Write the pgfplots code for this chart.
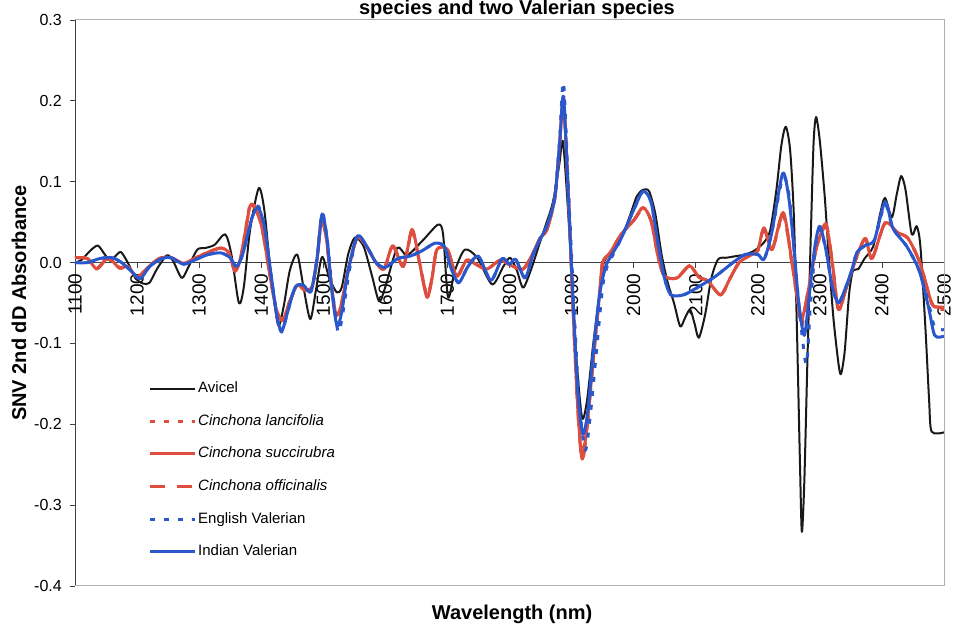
\documentclass[border=0pt]{standalone}
\usepackage{pgfplots}
\pgfplotsset{compat=1.18}
\usepackage{pgfplotstable}
\usepackage{fontspec}
\setmainfont{Liberation Sans}

\definecolor{cred}{RGB}{222,78,62}
\definecolor{cblue}{RGB}{42,88,204}
\definecolor{framegray}{RGB}{175,175,175}

% SNV second-derivative spectra (wavelength in nm, absorbance)
\pgfplotstableread{
x y
1100 0.000
1110 0.003
1125 0.015
1137 0.021
1148 0.010
1157 0.002
1165 0.008
1174 0.013
1185 0.000
1198 -0.020
1210 -0.026
1220 -0.025
1232 -0.008
1248 0.009
1258 0.002
1272 -0.019
1283 -0.005
1297 0.016
1310 0.018
1325 0.022
1342 0.035
1352 0.010
1364 -0.050
1372 -0.030
1382 0.040
1396 0.092
1405 0.065
1415 -0.010
1427 -0.077
1436 -0.055
1446 -0.010
1458 0.010
1468 -0.030
1479 -0.070
1488 -0.035
1498 0.007
1510 -0.020
1522 -0.037
1530 -0.030
1540 0.010
1551 0.031
1565 0.020
1578 -0.015
1590 -0.048
1600 -0.030
1619 0.018
1635 0.009
1661 0.028
1685 0.047
1693 0.035
1701 -0.043
1712 -0.010
1728 0.016
1748 0.006
1772 -0.027
1790 -0.005
1801 0.006
1812 -0.010
1822 -0.031
1835 -0.008
1849 0.025
1860 0.050
1870 0.075
1880 0.120
1886 0.150
1893 0.080
1900 -0.010
1908 -0.120
1917 -0.192
1925 -0.170
1935 -0.100
1945 -0.040
1952 0.000
1965 0.013
1980 0.030
1995 0.060
2005 0.082
2015 0.090
2025 0.088
2035 0.060
2045 0.010
2055 -0.025
2065 -0.050
2075 -0.079
2083 -0.068
2091 -0.058
2098 -0.075
2105 -0.093
2115 -0.065
2125 -0.020
2136 0.004
2150 0.006
2165 0.008
2180 0.010
2195 0.015
2210 0.025
2220 0.040
2230 0.090
2238 0.145
2245 0.168
2252 0.140
2258 0.060
2263 -0.080
2268 -0.250
2271 -0.333
2275 -0.270
2280 -0.120
2286 0.050
2290 0.150
2294 0.180
2300 0.150
2308 0.080
2315 0.000
2322 -0.070
2330 -0.125
2334 -0.138
2340 -0.110
2347 -0.040
2353 -0.011
2362 -0.008
2372 0.005
2386 0.020
2397 0.060
2405 0.080
2416 0.056
2424 0.085
2431 0.107
2438 0.090
2448 0.035
2456 0.045
2462 0.020
2470 -0.080
2476 -0.170
2480 -0.209
2500 -0.210
}\avicel

\pgfplotstableread{
x y
1100 0.006
1120 0.005
1135 -0.008
1150 0.004
1160 0.002
1172 -0.007
1185 -0.005
1200 -0.018
1215 -0.008
1235 0.005
1255 0.006
1275 -0.001
1295 0.006
1315 0.013
1335 0.018
1348 0.012
1358 -0.011
1368 0.010
1382 0.072
1392 0.066
1402 0.040
1415 -0.020
1425 -0.060
1435 -0.072
1445 -0.050
1458 -0.028
1470 -0.034
1482 -0.030
1490 0.005
1497 0.055
1505 0.030
1512 -0.020
1520 -0.066
1528 -0.055
1540 -0.010
1554 0.030
1568 0.022
1585 0.000
1598 -0.008
1612 0.021
1629 -0.005
1643 0.038
1655 0.000
1667 -0.040
1675 -0.020
1683 0.016
1700 0.016
1715 -0.017
1731 0.003
1748 -0.003
1764 -0.008
1785 0.003
1801 -0.003
1822 -0.008
1838 0.012
1849 0.030
1860 0.040
1873 0.080
1881 0.150
1887 0.208
1895 0.080
1902 -0.050
1910 -0.180
1917 -0.236
1925 -0.200
1935 -0.120
1945 -0.040
1950 0.000
1962 0.012
1980 0.035
2000 0.052
2015 0.068
2028 0.052
2040 0.005
2050 -0.017
2070 -0.019
2090 -0.004
2105 -0.018
2120 -0.023
2140 -0.040
2155 -0.020
2170 0.000
2190 0.010
2200 0.015
2210 0.043
2223 0.016
2241 0.058
2255 0.000
2265 -0.055
2271 -0.078
2280 -0.040
2295 0.020
2310 0.045
2320 0.000
2330 -0.058
2343 -0.030
2356 0.000
2373 0.030
2384 0.005
2405 0.049
2425 0.037
2442 0.030
2461 0.000
2480 -0.050
2490 -0.057
2500 -0.058
}\lancifolia

\pgfplotstableread{
x y
1100 0.006
1120 0.005
1135 -0.008
1150 0.004
1160 0.002
1172 -0.007
1185 -0.005
1200 -0.018
1215 -0.008
1235 0.005
1255 0.006
1275 -0.001
1295 0.006
1315 0.013
1335 0.018
1348 0.012
1358 -0.011
1368 0.010
1382 0.070
1392 0.065
1402 0.040
1415 -0.020
1425 -0.060
1435 -0.072
1445 -0.050
1458 -0.028
1470 -0.034
1482 -0.030
1490 0.005
1497 0.052
1505 0.030
1512 -0.020
1520 -0.064
1528 -0.055
1540 -0.010
1554 0.030
1568 0.022
1585 0.000
1598 -0.008
1612 0.021
1629 -0.005
1643 0.041
1655 0.000
1667 -0.043
1675 -0.020
1683 0.016
1700 0.016
1715 -0.017
1731 0.003
1748 -0.003
1764 -0.008
1785 0.003
1801 -0.003
1822 -0.008
1838 0.012
1849 0.030
1860 0.040
1873 0.080
1881 0.150
1887 0.200
1895 0.080
1902 -0.050
1910 -0.180
1917 -0.243
1925 -0.200
1935 -0.120
1945 -0.040
1950 0.000
1962 0.012
1980 0.035
2000 0.052
2015 0.068
2028 0.052
2040 0.005
2050 -0.017
2070 -0.019
2090 -0.004
2105 -0.018
2120 -0.023
2140 -0.040
2155 -0.020
2170 0.000
2190 0.010
2200 0.015
2210 0.043
2223 0.016
2241 0.062
2255 0.000
2265 -0.050
2271 -0.070
2280 -0.040
2295 0.020
2310 0.045
2320 0.000
2330 -0.058
2343 -0.030
2356 0.000
2373 0.030
2384 0.005
2405 0.049
2425 0.037
2442 0.030
2461 0.000
2480 -0.050
2490 -0.055
2500 -0.055
}\succirubra

\pgfplotstableread{
x y
1100 0.006
1120 0.005
1135 -0.007
1150 0.004
1160 0.002
1172 -0.006
1185 -0.005
1200 -0.018
1215 -0.008
1235 0.005
1255 0.006
1275 -0.001
1295 0.006
1315 0.013
1335 0.018
1348 0.012
1358 -0.010
1368 0.010
1382 0.068
1392 0.064
1402 0.040
1415 -0.020
1425 -0.060
1435 -0.070
1445 -0.050
1458 -0.028
1470 -0.034
1482 -0.030
1490 0.005
1497 0.052
1505 0.030
1512 -0.020
1520 -0.064
1528 -0.055
1540 -0.010
1554 0.030
1568 0.022
1585 0.000
1598 -0.008
1612 0.020
1629 -0.004
1643 0.040
1655 0.000
1667 -0.042
1675 -0.020
1683 0.016
1700 0.016
1715 -0.016
1731 0.003
1748 -0.003
1764 -0.008
1785 0.003
1801 -0.003
1822 -0.008
1838 0.012
1849 0.030
1860 0.040
1873 0.080
1881 0.148
1887 0.196
1895 0.080
1902 -0.050
1910 -0.182
1917 -0.245
1925 -0.205
1935 -0.120
1945 -0.040
1950 0.000
1962 0.012
1980 0.035
2000 0.052
2015 0.066
2028 0.052
2040 0.005
2050 -0.017
2070 -0.019
2090 -0.004
2105 -0.018
2120 -0.023
2140 -0.040
2155 -0.020
2170 0.000
2190 0.010
2200 0.015
2210 0.042
2223 0.016
2241 0.060
2255 0.000
2265 -0.052
2271 -0.072
2280 -0.040
2295 0.020
2310 0.048
2320 0.000
2330 -0.058
2343 -0.030
2356 0.000
2373 0.030
2384 0.005
2405 0.049
2425 0.037
2442 0.030
2461 0.000
2480 -0.050
2490 -0.055
2500 -0.056
}\officinalis

\pgfplotstableread{
x y
1100 0.000
1120 0.000
1140 0.005
1160 0.006
1175 0.000
1190 -0.010
1205 -0.020
1220 -0.005
1240 0.005
1255 0.006
1275 -0.002
1295 0.004
1315 0.010
1335 0.012
1350 0.006
1360 -0.005
1370 0.010
1385 0.055
1395 0.070
1405 0.045
1415 -0.010
1425 -0.065
1433 -0.086
1443 -0.060
1455 -0.030
1468 -0.028
1480 -0.036
1490 0.005
1498 0.062
1506 0.030
1514 -0.030
1524 -0.086
1532 -0.060
1542 -0.010
1555 0.033
1570 0.020
1585 0.000
1600 -0.006
1620 0.005
1640 0.008
1660 0.015
1680 0.024
1695 0.020
1705 -0.005
1718 -0.025
1733 -0.005
1750 0.008
1770 -0.022
1788 0.005
1800 -0.002
1810 0.004
1825 -0.019
1838 0.010
1850 0.030
1860 0.045
1873 0.082
1881 0.155
1887 0.223
1895 0.090
1903 -0.040
1912 -0.170
1922 -0.232
1930 -0.190
1940 -0.110
1950 -0.030
1958 -0.003
1967 0.010
1980 0.030
2000 0.065
2015 0.088
2028 0.075
2040 0.020
2050 -0.020
2060 -0.040
2080 -0.040
2100 -0.032
2130 -0.018
2160 0.000
2180 0.010
2200 0.010
2210 0.004
2222 0.035
2240 0.105
2250 0.085
2258 0.020
2266 -0.050
2278 -0.126
2285 -0.050
2293 0.020
2300 0.042
2310 0.015
2320 -0.030
2330 -0.050
2342 -0.030
2352 -0.008
2360 0.013
2375 0.022
2388 0.028
2405 0.072
2418 0.042
2440 0.020
2460 -0.010
2475 -0.050
2485 -0.080
2500 -0.083
}\english

\pgfplotstableread{
x y
1100 0.000
1120 0.000
1140 0.005
1160 0.006
1175 0.000
1190 -0.010
1205 -0.020
1220 -0.005
1240 0.005
1255 0.006
1275 -0.002
1295 0.004
1315 0.010
1335 0.012
1350 0.006
1360 -0.005
1370 0.010
1385 0.055
1395 0.068
1405 0.045
1415 -0.010
1425 -0.065
1433 -0.085
1443 -0.060
1455 -0.030
1468 -0.028
1480 -0.036
1490 0.005
1498 0.060
1506 0.030
1513 -0.030
1522 -0.078
1530 -0.060
1540 -0.010
1555 0.033
1570 0.020
1585 0.000
1600 -0.006
1620 0.005
1640 0.008
1660 0.015
1680 0.024
1695 0.020
1705 -0.005
1718 -0.025
1733 -0.005
1750 0.008
1770 -0.022
1788 0.005
1800 -0.002
1810 0.004
1825 -0.019
1838 0.010
1850 0.030
1860 0.045
1873 0.080
1881 0.150
1887 0.205
1895 0.080
1902 -0.040
1910 -0.160
1918 -0.212
1926 -0.185
1935 -0.110
1945 -0.040
1955 -0.005
1965 0.010
1980 0.030
2000 0.065
2015 0.088
2028 0.075
2040 0.020
2050 -0.020
2060 -0.040
2080 -0.040
2100 -0.032
2130 -0.018
2160 0.000
2180 0.010
2200 0.010
2210 0.004
2222 0.035
2240 0.110
2250 0.080
2258 0.020
2266 -0.050
2275 -0.090
2283 -0.040
2292 0.020
2300 0.045
2310 0.015
2320 -0.030
2330 -0.050
2342 -0.030
2352 -0.008
2360 0.013
2375 0.022
2388 0.028
2405 0.075
2418 0.042
2440 0.020
2460 -0.010
2475 -0.055
2485 -0.090
2500 -0.091
}\indian

\begin{document}
\begin{tikzpicture}
\begin{axis}[
  scale only axis,
  width=869pt, height=566pt,
  xmin=1100, xmax=2500, ymin=-0.4, ymax=0.3,
  axis x line=middle, axis y line=left,
  hide obscured x ticks=false, hide obscured y ticks=false,
  axis line style={-, black!75, line width=0.8pt},
  xtick={1100,1200,...,2500},
  ytick={-0.4,-0.3,-0.2,-0.1,0,0.1,0.2,0.3},
  tick align=outside,
  major tick length=5pt,
  tick style={black!75, line width=0.8pt},
  /pgf/number format/assume math mode=true,
  xticklabel shift=4pt,
  xticklabel style={rotate=90, anchor=east, inner sep=2pt,
    font=\fontsize{19}{22}\selectfont,
    /pgf/number format/.cd, 1000 sep={}, fixed},
  yticklabel style={anchor=east, inner sep=2pt, xshift=-6pt,
    font=\fontsize{16}{19}\selectfont,
    /pgf/number format/.cd, fixed, fixed zerofill, precision=1},
  xlabel={Wavelength (nm)},
  ylabel={SNV 2nd dD Absorbance},
  xlabel style={at={(rel axis cs:0.503,0)}, anchor=base, yshift=-34pt,
    font=\bfseries\fontsize{20}{24}\selectfont},
  ylabel style={at={(rel axis cs:0,0.5)}, anchor=center, yshift=56pt,
    font=\bfseries\fontsize{20}{24}\selectfont},
  legend image code/.code={%
    \draw[mark repeat=2,mark phase=2,#1] plot coordinates {(0pt,0pt) (22pt,0pt) (45pt,0pt)};},
  legend style={at={(rel axis cs:0.084,0.365)}, anchor=north west,
    draw=none, fill=none, inner sep=0pt, row sep=14.6pt,
    font=\fontsize{15}{18}\selectfont,
    nodes={inner sep=2pt, text height=11pt, text depth=3pt}},
  legend cell align=left,
  every axis plot/.append style={smooth, tension=0.45, line join=round},
]
\addplot[black!90, line width=2pt] table {\avicel};
\addlegendentry{Avicel}
\addplot[cred, line width=3pt, dash pattern=on 5pt off 9pt] table {\lancifolia};
\addlegendentry{\textit{Cinchona lancifolia}}
\addplot[cred, line width=3pt] table {\succirubra};
\addlegendentry{\textit{Cinchona succirubra}}
\addplot[cred, line width=3pt, dash pattern=on 15pt off 12pt] table {\officinalis};
\addlegendentry{\textit{Cinchona officinalis}}
\addplot[cblue, line width=3pt, dash pattern=on 5pt off 9pt] table {\english};
\addlegendentry{English Valerian}
\addplot[cblue, line width=3pt] table {\indian};
\addlegendentry{Indian Valerian}

\coordinate (bl) at (rel axis cs:0,0);
\coordinate (tr) at (rel axis cs:1,1);
\coordinate (tt) at (rel axis cs:0.5086,1);
\end{axis}

% plot-area frame on the three open sides
\draw[framegray, line width=1pt] (bl) -- (bl -| tr) -- (tr) -- (tr -| bl);

% second line of the chart title
\node[anchor=base, font=\bfseries\fontsize{20}{24}\selectfont, inner sep=0pt]
  at ([yshift=5pt]tt) {species and two Valerian species};

\pgfresetboundingbox
\path[use as bounding box] ([shift={(-75pt,-40pt)}]bl) rectangle ([shift={(10pt,20pt)}]tr);
\end{tikzpicture}
\end{document}
